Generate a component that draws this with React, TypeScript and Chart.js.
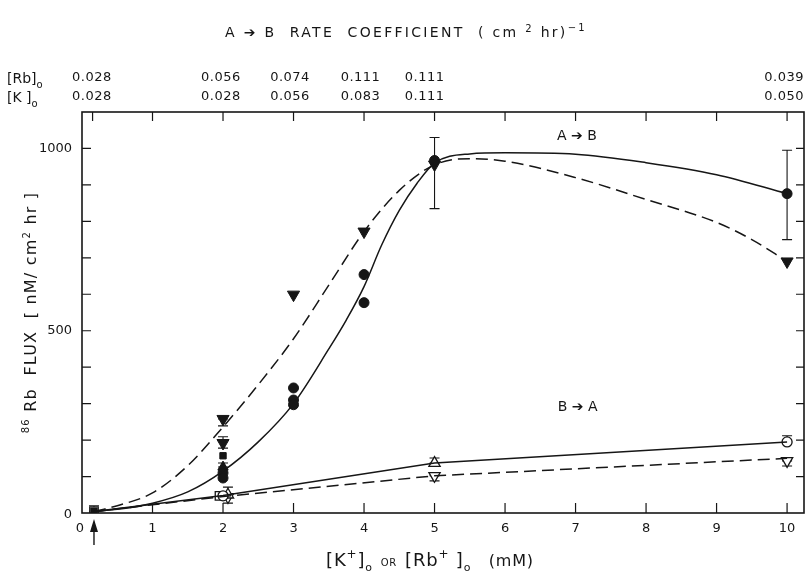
import React, { useEffect, useRef } from "react";
import { Chart, registerables } from "chart.js";

Chart.register(...registerables);

// ---------- data ----------
// A->B fitted curves
const abSolidX = [0.17, 0.5, 1, 1.5, 2, 2.5, 3, 3.5, 3.75, 4, 4.25, 4.5, 4.75, 5, 5.5, 6, 7, 8, 9, 10];
const abSolidY = [4, 10, 27, 58, 115, 195, 300, 450, 530, 621, 735, 830, 904, 960, 985, 988, 984, 961, 928, 876];
const abDashX = [0.17, 0.5, 1, 1.5, 2, 2.5, 3, 3.5, 4, 4.5, 5, 5.5, 6, 7, 8, 9, 9.5, 10];
const abDashY = [4, 20, 55, 130, 236, 352, 478, 625, 772, 885, 955, 972, 965, 920, 860, 797, 750, 690];
// B->A lines
const baSolidX = [0.17, 2, 5, 10];
const baSolidY = [4, 48, 137, 195];
const baDashX = [0.17, 2, 5, 10];
const baDashY = [4, 45, 102, 150];

// markers
const filledCircleX = [2, 2, 3, 3, 3, 4, 4, 5, 10];
const filledCircleY = [110, 96, 343, 310, 297, 654, 577, 967, 876];
const filledTriDownX = [2, 2, 3, 4, 5, 10];
const filledTriDownY = [258, 192, 599, 772, 956, 690];
const filledSquareX = [2, 0.17];
const filledSquareY = [157, 5];
const filledTriUpX = [2];
const filledTriUpY = [126];
const openCircleX = [2, 10];
const openCircleY = [47, 195];
const openSquareX = [1.95, 0.17];
const openSquareY = [47, 5];
const openTriUpX = [2.07, 5];
const openTriUpY = [50, 137];
const openTriDownX = [2.07, 5, 10];
const openTriDownY = [44, 102, 143];

// error bars
const errX = [5, 10, 2, 2, 2, 2.07, 5, 5, 10, 10, 0.17];
const errLo = [835, 750, 239, 178, 126, 27, 137, 88, 195, 129, 5];
const errHi = [1030, 995, 258, 209, 137, 71, 151, 102, 212, 143, 20];

// ticks
const xTickValues = [0, 1, 2, 3, 4, 5, 6, 7, 8, 9, 10];
const xTickLabels = ["0", "1", "2", "3", "4", "5", "6", "7", "8", "9", "10"];
const topTickValues = [0.15, 1, 2, 3, 4, 5, 6, 7, 8, 9, 10];
const yMinorTicks = [100, 200, 300, 400, 500, 600, 700, 800, 900, 1000];
const yTickValues = [0, 500, 1000];
const yTickLabels = ["0", "500", "1000"];

// top concentration rows
const topLabelX = [0.14, 1.97, 2.95, 3.95, 4.86, 9.97];
const rbRow = ["0.028", "0.056", "0.074", "0.111", "0.111", "0.039"];
const kRow = ["0.028", "0.028", "0.056", "0.083", "0.111", "0.050"];

const arrowX = 0.17;

const FONT = '"DejaVu Sans", "Liberation Sans", sans-serif';
const INK = "#161616";

type Piece = [string, number, number]; // text, size, dy

function piecesWidth(ctx: CanvasRenderingContext2D, pieces: Piece[]) {
  let w = 0;
  for (const [t, s] of pieces) {
    ctx.font = `${s}px ${FONT}`;
    w += ctx.measureText(t).width;
  }
  return w;
}

function drawPieces(
  ctx: CanvasRenderingContext2D,
  pieces: Piece[],
  x: number,
  y: number,
  align: "left" | "center" | "right"
) {
  const w = piecesWidth(ctx, pieces);
  let cx = align === "left" ? x : align === "center" ? x - w / 2 : x - w;
  ctx.textAlign = "left";
  ctx.textBaseline = "alphabetic";
  for (const [t, s, dy] of pieces) {
    ctx.font = `${s}px ${FONT}`;
    ctx.fillText(t, cx, y + dy);
    cx += ctx.measureText(t).width;
  }
}

const decorPlugin = {
  id: "decor",
  beforeDatasetsDraw(chart: any) {
    const ctx: CanvasRenderingContext2D = chart.ctx;
    const xs = chart.scales.x;
    const ys = chart.scales.y;
    ctx.save();
    ctx.strokeStyle = INK;
    ctx.lineWidth = 1.1;
    for (let i = 0; i < errX.length; i++) {
      const px = xs.getPixelForValue(errX[i]);
      const lo = ys.getPixelForValue(errLo[i]);
      const hi = ys.getPixelForValue(errHi[i]);
      ctx.beginPath();
      ctx.moveTo(px, lo);
      ctx.lineTo(px, hi);
      ctx.moveTo(px - 5, lo);
      ctx.lineTo(px + 5, lo);
      ctx.moveTo(px - 5, hi);
      ctx.lineTo(px + 5, hi);
      ctx.stroke();
    }
    ctx.restore();
  },
  afterDatasetsDraw(chart: any) {
    const ctx: CanvasRenderingContext2D = chart.ctx;
    const xs = chart.scales.x;
    const ys = chart.scales.y;
    const { left, right, top, bottom } = chart.chartArea;
    ctx.save();
    ctx.strokeStyle = INK;
    ctx.fillStyle = INK;

    // frame
    ctx.lineWidth = 1.6;
    ctx.strokeRect(left, top, right - left, bottom - top);

    // ticks
    ctx.lineWidth = 1.2;
    ctx.beginPath();
    for (const v of xTickValues) {
      if (v === 0) continue;
      const px = xs.getPixelForValue(v);
      ctx.moveTo(px, bottom);
      ctx.lineTo(px, bottom - 10);
    }
    for (const v of topTickValues) {
      const px = xs.getPixelForValue(v);
      ctx.moveTo(px, top);
      ctx.lineTo(px, top + 9);
    }
    for (const v of yMinorTicks) {
      const py = ys.getPixelForValue(v);
      ctx.moveTo(left, py);
      ctx.lineTo(left + 9, py);
      ctx.moveTo(right, py);
      ctx.lineTo(right - 8, py);
    }
    ctx.stroke();

    // tick labels
    ctx.font = `13px ${FONT}`;
    ctx.textAlign = "center";
    ctx.textBaseline = "middle";
    xTickValues.forEach((v, i) => {
      const px = xs.getPixelForValue(v) - (v === 0 ? 2 : 0);
      ctx.fillText(xTickLabels[i], px, bottom + 16);
    });
    ctx.textAlign = "right";
    yTickValues.forEach((v, i) => {
      const py = ys.getPixelForValue(v);
      ctx.fillText(yTickLabels[i], left - 10, py + (v === 0 ? 2 : 0));
    });

    // top concentration rows
    ctx.font = `13px ${FONT}`;
    (ctx as any).letterSpacing = "0.5px";
    ctx.textBaseline = "middle";
    topLabelX.forEach((v, i) => {
      const px = xs.getPixelForValue(v);
      if (i === topLabelX.length - 1) {
        ctx.textAlign = "right";
        ctx.fillText(rbRow[i], right, top - 34);
        ctx.fillText(kRow[i], right, top - 15);
      } else {
        ctx.textAlign = "center";
        ctx.fillText(rbRow[i], px, top - 34);
        ctx.fillText(kRow[i], px, top - 15);
      }
    });
    (ctx as any).letterSpacing = "0px";
    drawPieces(ctx, [["[Rb]", 14, 0], ["o", 10, 5]], 7, top - 29, "left");
    drawPieces(ctx, [["[K ]", 14, 0], ["o", 10, 5]], 7, top - 10, "left");

    // title
    (ctx as any).letterSpacing = "2.3px";
    drawPieces(
      ctx,
      [
        ["A ➔ B  RATE  COEFFICIENT  ( cm ", 14, 0],
        ["2", 10, -5],
        [" hr)", 14, 0],
        ["−1", 10, -6],
      ],
      406,
      37,
      "center"
    );
    (ctx as any).letterSpacing = "0px";

    // curve annotations
    ctx.font = `14px ${FONT}`;
    ctx.textAlign = "center";
    ctx.textBaseline = "middle";
    ctx.fillText("A ➔ B", xs.getPixelForValue(7.02), ys.getPixelForValue(1033));
    ctx.fillText("B ➔ A", xs.getPixelForValue(7.03), ys.getPixelForValue(291));

    // x axis title
    (ctx as any).letterSpacing = "0.8px";
    drawPieces(
      ctx,
      [
        ["[K", 18, 0],
        ["+", 12, -8],
        ["]", 18, 0],
        ["o", 11, 5],
        ["  OR  ", 10, 0],
        ["[Rb", 18, 0],
        ["+", 12, -8],
        [" ]", 18, 0],
        ["o", 11, 5],
        ["   (mM)", 16, 0],
      ],
      430,
      bottom + 53,
      "center"
    );
    (ctx as any).letterSpacing = "0px";

    // y axis title (rotated)
    ctx.save();
    ctx.translate(36, (top + bottom) / 2);
    ctx.rotate(-Math.PI / 2);
    (ctx as any).letterSpacing = "1.2px";
    drawPieces(
      ctx,
      [
        ["86", 10, -7],
        [" Rb  FLUX  [ nM/ cm", 16, 0],
        ["2", 10, -6],
        [" hr ]", 16, 0],
      ],
      0,
      0,
      "center"
    );
    (ctx as any).letterSpacing = "0px";
    ctx.restore();

    // arrow below x axis
    const ax = xs.getPixelForValue(arrowX);
    ctx.lineWidth = 1.4;
    ctx.beginPath();
    ctx.moveTo(ax, bottom + 32);
    ctx.lineTo(ax, bottom + 14);
    ctx.stroke();
    ctx.beginPath();
    ctx.moveTo(ax, bottom + 6);
    ctx.lineTo(ax - 4, bottom + 19);
    ctx.lineTo(ax + 4, bottom + 19);
    ctx.closePath();
    ctx.fill();

    ctx.restore();
  },
};

function pts(xs: number[], ys: number[]) {
  return xs.map((x, i) => ({ x, y: ys[i] }));
}

export default function App() {
  const ref = useRef<HTMLCanvasElement | null>(null);
  useEffect(() => {
    if (!ref.current) return;
    const curve = (xs: number[], ys: number[], dash: number[], smooth: boolean) => ({
      type: "line" as const,
      data: pts(xs, ys),
      showLine: true,
      borderColor: INK,
      borderWidth: 1.5,
      borderDash: dash,
      pointRadius: 0,
      fill: false,
      cubicInterpolationMode: smooth ? ("monotone" as const) : ("default" as const),
      tension: 0,
    });
    const marker = (
      xs: number[],
      ys: number[],
      style: string,
      radius: number,
      filled: boolean,
      rotation = 0
    ) => ({
      type: "scatter" as const,
      data: pts(xs, ys),
      showLine: false,
      pointStyle: style,
      pointRadius: radius,
      pointRotation: rotation,
      pointBackgroundColor: filled ? INK : "#ffffff",
      pointBorderColor: INK,
      pointBorderWidth: filled ? 1 : 1.3,
    });
    const chart = new Chart(ref.current, {
      type: "scatter",
      data: {
        datasets: [
          curve(abSolidX, abSolidY, [], true),
          curve(abDashX, abDashY, [12, 6], true),
          curve(baSolidX, baSolidY, [], false),
          curve(baDashX, baDashY, [12, 6], false),
          marker(filledCircleX, filledCircleY, "circle", 5, true),
          marker(filledTriDownX, filledTriDownY, "triangle", 7, true, 180),
          marker(filledSquareX, filledSquareY, "rect", 4.5, true),
          marker(filledTriUpX, filledTriUpY, "triangle", 6, true),
          marker(openCircleX, openCircleY, "circle", 5, false),
          marker(openSquareX, openSquareY, "rect", 6, false),
          marker(openTriUpX, openTriUpY, "triangle", 6.5, false),
          marker(openTriDownX, openTriDownY, "triangle", 6.5, false, 180),
          marker(filledSquareX.slice(1), filledSquareY.slice(1), "rect", 3.5, true),
        ] as any,
      },
      options: {
        animation: false,
        responsive: false,
        devicePixelRatio: 1,
        layout: { padding: { left: 82, right: 2, top: 112, bottom: 68 } },
        plugins: {
          legend: { display: false },
          tooltip: { enabled: false },
          title: { display: false },
        },
        scales: {
          x: { type: "linear", min: 0, max: 10.24, display: false },
          y: { type: "linear", min: 0, max: 1100, display: false },
        },
        events: [],
      },
      plugins: [decorPlugin],
    });
    return () => chart.destroy();
  }, []);
  return (
    <div
      style={{
        position: "fixed",
        left: 0,
        top: 0,
        width: 812,
        height: 581,
        background: "#ffffff",
      }}
    >
      <canvas ref={ref} width={812} height={581} style={{ width: 812, height: 581 }} />
    </div>
  );
}
